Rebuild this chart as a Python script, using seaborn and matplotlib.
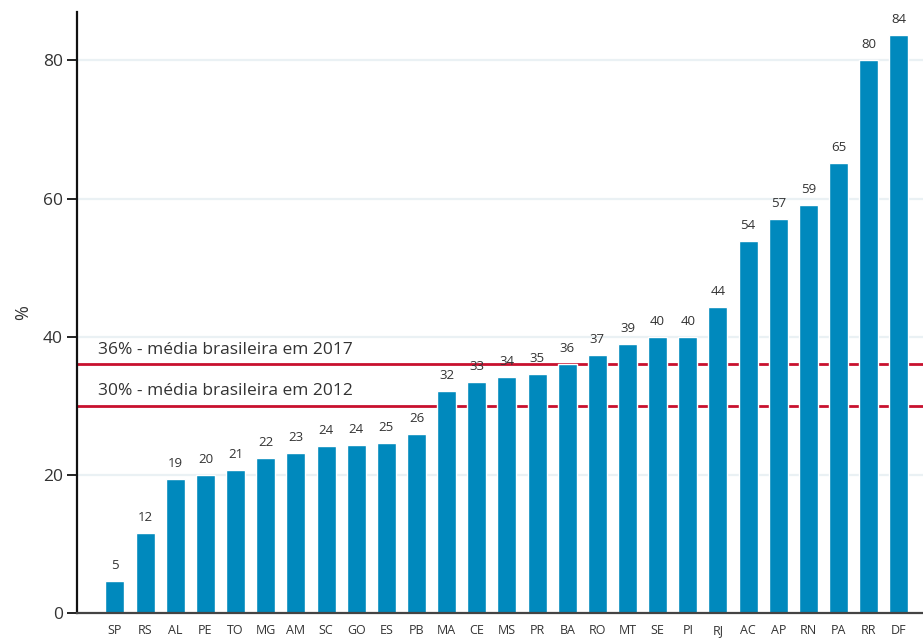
import matplotlib
matplotlib.use("Agg")
import matplotlib.pyplot as plt
import seaborn as sns
import pandas as pd

# Unidades da federação, ordenadas pelo percentual
estados = ["SP", "RS", "AL", "PE", "TO", "MG", "AM", "SC", "GO", "ES", "PB", "MA",
           "CE", "MS", "PR", "BA", "RO", "MT", "SE", "PI", "RJ", "AC", "AP", "RN",
           "PA", "RR", "DF"]
percentual = [4.6, 11.6, 19.4, 20.0, 20.7, 22.4, 23.2, 24.2, 24.3, 24.6, 25.9, 32.2,
              33.4, 34.2, 34.6, 36.0, 37.4, 39.0, 39.9, 40.0, 44.3, 53.8, 57.1, 59.1,
              65.2, 80.1, 83.7]

# Médias nacionais de referência
medias_valor = [36, 30]
medias_texto = ["36% - média brasileira em 2017", "30% - média brasileira em 2012"]

yticks = [0, 20, 40, 60, 80]

df = pd.DataFrame({"estado": estados, "pct": percentual})

sns.set_theme(style="white")
plt.rcParams["font.family"] = ["Open Sans", "DejaVu Sans"]

fig = plt.figure(figsize=(9.23, 6.38), dpi=100)
ax = fig.add_axes([0.0834, 0.039, 0.9166, 0.942])

bar_color = "#0089BD"
red = "#C8102E"
text_color = "#333333"

# grade horizontal clara
for y in yticks[1:]:
    ax.axhline(y, color="#EAF1F4", lw=1.6, zorder=0)

# linhas das médias
for v, t in zip(medias_valor, medias_texto):
    ax.axhline(v, color=red, lw=2.0, zorder=1)
    ax.text(-0.56, v + 1.0, t, fontsize=12.5, color=text_color,
            ha="left", va="bottom", zorder=3)

sns.barplot(data=df, x="estado", y="pct", color=bar_color, saturation=1,
            width=0.63, ax=ax, zorder=2)

for i, v in enumerate(percentual):
    ax.annotate(f"{int(v + 0.5):d}", (i, v), xytext=(0, 6.5), textcoords="offset points",
                ha="center", va="bottom", fontsize=9.5, color=text_color)

ax.set_xlim(-1.26, 26.8)
ax.set_ylim(0, 87)
ax.set_yticks(yticks)
ax.set_xlabel("")
ax.set_ylabel("%", fontsize=13, color=text_color, labelpad=8)

for side in ["top", "right"]:
    ax.spines[side].set_visible(False)
ax.spines["left"].set_color("#111111")
ax.spines["left"].set_linewidth(1.6)
ax.spines["bottom"].set_color("#444444")
ax.spines["bottom"].set_linewidth(1.6)

ax.tick_params(axis="y", left=True, length=7, width=1.3, color="#111111",
               labelsize=12.5, labelcolor=text_color, pad=3)
ax.tick_params(axis="x", bottom=False, labelsize=9, labelcolor=text_color, pad=2)

fig.savefig("out.png", dpi=100)
